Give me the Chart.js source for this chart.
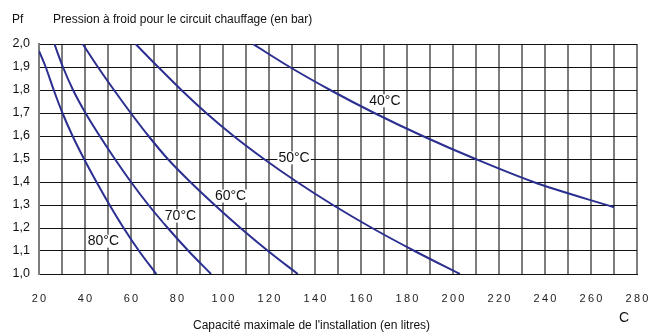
<!DOCTYPE html>
<html>
<head>
<meta charset="utf-8">
<script src="https://cdn.jsdelivr.net/npm/chart.js@4/dist/chart.umd.min.js"></script>
<style>
  html, body { margin: 0; padding: 0; background: #fff; }
  #wrap { width: 652px; height: 334px; position: relative; }
</style>
</head>
<body>
<div id="wrap"><canvas id="c" width="652" height="334"></canvas></div>
<script>
// ---- Data (capacity in litres vs cold pressure in bar) ----
const pressure = [2.0, 1.9, 1.8, 1.7, 1.6, 1.5, 1.4, 1.3, 1.2, 1.1, 1.0];

const cap80 = [20, 22.9, 26.4, 30.2, 34.6, 39.6, 45.0, 50.7, 56.8, 63.5, 71];
const p80   = [1.97, 1.9, 1.8, 1.7, 1.6, 1.5, 1.4, 1.3, 1.2, 1.1, 1.0];

const cap70 = [26.7, 30.4, 34.8, 40.2, 46.4, 53.0, 60.0, 67.6, 76.0, 85.0, 94.8];
const cap60 = [39, 45.6, 52.6, 59.9, 67.6, 76.0, 85.8, 96.4, 107.6, 119.6, 132.5];
const cap50 = [62, 71.8, 81.9, 92.7, 104.6, 117.8, 132.2, 147.8, 164.8, 183.3, 203];

const cap40 = [113, 129, 146.6, 165.8, 186.8, 209.8, 235, 270];
const p40   = [2.0, 1.9, 1.8, 1.7, 1.6, 1.5, 1.4, 1.29];

const seriesNames = ['80°C', '70°C', '60°C', '50°C', '40°C'];
// label anchor points in data units (capacity, pressure)
const labelCap = [48, 81.5, 103.3, 130.9, 170.4];
const labelP   = [1.145, 1.254, 1.341, 1.507, 1.755];

const xTickLabels = [20, 40, 60, 80, 100, 120, 140, 160, 180, 200, 220, 240, 260, 280];
const yTickLabels = ['1,0','1,1','1,2','1,3','1,4','1,5','1,6','1,7','1,8','1,9','2,0'];

const titleText = 'Pression à froid pour le circuit chauffage (en bar)';
const yUnit = 'Pf';
const xTitle = "Capacité maximale de l'installation (en litres)";
const xUnit = 'C';

function pts(xs, ys) { return xs.map((x, i) => ({ x: x, y: ys[i] })); }

const lineColor = '#2b2f8f';
const FONT = '"Liberation Sans", Arial, Helvetica, sans-serif';

function mkDs(name, xs, ys) {
  return {
    label: name,
    data: pts(xs, ys),
    borderColor: lineColor,
    borderWidth: 2,
    pointRadius: 0,
    fill: false,
    cubicInterpolationMode: 'monotone'
  };
}

const textPlugin = {
  id: 'texts',
  afterDatasetsDraw(chart) {
    const ctx = chart.ctx;
    const xs = chart.scales.x, ys = chart.scales.y;
    ctx.save();
    ctx.font = '14px ' + FONT;
    ctx.textAlign = 'center';
    ctx.textBaseline = 'middle';
    for (let i = 0; i < seriesNames.length; i++) {
      const px = xs.getPixelForValue(labelCap[i]);
      const py = ys.getPixelForValue(labelP[i]);
      const w = ctx.measureText(seriesNames[i]).width;
      ctx.fillStyle = '#fff';
      ctx.fillRect(px - w / 2 - 1, py - 6, w + 2, 13);
      ctx.fillStyle = '#111';
      ctx.fillText(seriesNames[i], px, py + 0.5);
    }
    ctx.restore();
  },
  afterDraw(chart) {
    const ctx = chart.ctx;
    ctx.save();
    ctx.fillStyle = '#111';
    ctx.textBaseline = 'middle';
    ctx.textAlign = 'left';
    ctx.font = '12px ' + FONT;
    ctx.fillText(yUnit, 12, 20);
    ctx.fillText(titleText, 53, 20);
    ctx.fillText(xTitle, 193, 326);
    ctx.font = '14px ' + FONT;
    ctx.textAlign = 'center';
    ctx.fillText(xUnit, 624, 318);
    ctx.restore();
  }
};

new Chart(document.getElementById('c'), {
  type: 'line',
  data: {
    datasets: [
      mkDs(seriesNames[0], cap80, p80),
      mkDs(seriesNames[1], cap70, pressure),
      mkDs(seriesNames[2], cap60, pressure),
      mkDs(seriesNames[3], cap50, pressure),
      mkDs(seriesNames[4], cap40, p40)
    ]
  },
  options: {
    responsive: false,
    animation: false,
    devicePixelRatio: 1,
    layout: { padding: { left: 0, right: 0, top: 44, bottom: 0 } },
    plugins: {
      legend: { display: false },
      tooltip: { enabled: false },
      title: { display: false }
    },
    scales: {
      x: {
        type: 'linear',
        min: 20, max: 280,
        afterFit(s) { s.height = 60; s.paddingRight = 15; },
        afterBuildTicks(s) {
          const t = [];
          for (let v = 20; v <= 280; v += 10) t.push({ value: v });
          s.ticks = t;
        },
        ticks: {
          autoSkip: false,
          maxRotation: 0,
          padding: 18,
          color: '#222',
          font: { family: FONT, size: 11 },
          callback(v) {
            return xTickLabels.includes(v) ? String(v).split('').join('\u2009') : '';
          }
        },
        grid: { color: '#7d7d7d', lineWidth: 2, drawTicks: false },
        border: { color: '#111', width: 1 }
      },
      y: {
        type: 'linear',
        min: 1.0, max: 2.0,
        afterFit(s) { s.width = 39; },
        afterBuildTicks(s) {
          s.ticks = yTickLabels.map((_, i) => ({ value: 1 + i / 10 }));
        },
        ticks: {
          padding: 9,
          color: '#111',
          font: { family: FONT, size: 12.5 },
          callback(v, i) { return yTickLabels[i]; }
        },
        grid: { color: '#111', lineWidth: 1, drawTicks: false },
        border: { color: '#7d7d7d', width: 2 }
      }
    }
  },
  plugins: [textPlugin]
});
</script>
</body>
</html>
